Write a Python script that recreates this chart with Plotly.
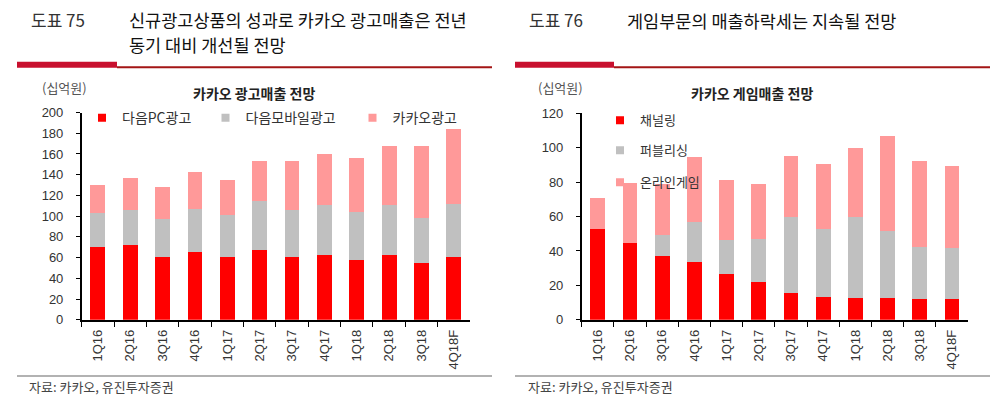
import plotly.graph_objects as go

quarters = ["1Q16", "2Q16", "3Q16", "4Q16", "1Q17", "2Q17", "3Q17", "4Q17",
            "1Q18", "2Q18", "3Q18", "4Q18F"]

# 카카오 광고매출 (십억원)
ad_names = ["다음PC광고", "다음모바일광고", "카카오광고"]
ad_pc = [70, 72.5, 61, 65.5, 61, 67, 61, 62.5, 58, 62.5, 55, 61]
ad_mobile = [33, 33, 36, 41.5, 40, 47.5, 44.5, 48.5, 46, 48.5, 43, 51]
ad_kakao = [27, 31.5, 31, 36, 33.5, 39, 47.5, 49, 52, 56.5, 70, 72.5]

# 카카오 게임매출 (십억원)
game_names = ["채널링", "퍼블리싱", "온라인게임"]
game_channel = [53, 44.5, 37, 33.5, 26.5, 22, 15.5, 13.5, 12.5, 12.5, 12, 12]
game_publish = [0, 0, 12, 23.5, 20, 25, 44, 39.5, 47.5, 39, 30.5, 30]
game_online = [18, 35, 30, 37.5, 34.5, 32, 35.5, 37.5, 40, 55, 50, 47.5]

colors = ["#FF0000", "#C0C0C0", "#FF9999"]

W, H = 1000, 399
# vertical correction for the capture (measured from earlier renders)
SY, OY = 0.963, 7.7
def px(x):
    return x / W
def py(y):
    return 1 - ((y - OY) / SY) / H

FONT = "Noto Sans CJK KR"
NUMFONT = "Liberation Sans, Noto Sans CJK KR"

fig = go.Figure()

left_legends = ["legend", "legend2", "legend3"]
right_legends = ["legend4", "legend5", "legend6"]

for name, vals, c, lg in zip(ad_names, [ad_pc, ad_mobile, ad_kakao], colors, left_legends):
    fig.add_trace(go.Bar(x=quarters, y=vals, name=name, marker_color=c,
                         marker_line_width=0, xaxis="x", yaxis="y",
                         showlegend=False))
    fig.add_trace(go.Scatter(x=[None], y=[None], mode="markers", name=name,
                             marker=dict(symbol="square", size=8, color=c),
                             legend=lg, xaxis="x", yaxis="y"))

for name, vals, c, lg in zip(game_names, [game_channel, game_publish, game_online], colors, right_legends):
    fig.add_trace(go.Bar(x=quarters, y=vals, name=name, marker_color=c,
                         marker_line_width=0, xaxis="x2", yaxis="y2",
                         showlegend=False))
    fig.add_trace(go.Scatter(x=[None], y=[None], mode="markers", name=name,
                             marker=dict(symbol="square", size=8, color=c),
                             legend=lg, xaxis="x2", yaxis="y2"))

xcommon = dict(type="category", range=[-0.5, 11.5], showline=True,
               linecolor="black", linewidth=1.5, ticks="outside",
               tickson="boundaries", ticklen=5, tickwidth=1.2, tickcolor="black",
               tickangle=-90, ticklabelstandoff=3,
               tickfont=dict(family=NUMFONT, size=13, color="#333"),
               showgrid=False, zeroline=False, fixedrange=True)
ycommon = dict(showline=True, linecolor="black", linewidth=1.5, ticks="outside",
               ticklen=4, tickwidth=1.2, tickcolor="black", showgrid=False,
               zeroline=False, fixedrange=True, ticklabelstandoff=10,
               tickfont=dict(family=NUMFONT, size=13, color="#333"))

legend_layout = {}
for lg, xc, yc in zip(left_legends, [102, 225.5, 372.5], [119, 119, 119]):
    legend_layout[lg] = dict(x=px(xc - 20), y=py(yc), xanchor="left", yanchor="middle",
                             font=dict(family=FONT, size=14, color="#333"),
                             bgcolor="rgba(0,0,0,0)")
for lg, xc, yc in zip(right_legends, [620, 620, 620], [121, 151, 183]):
    legend_layout[lg] = dict(x=px(xc - 20), y=py(yc), xanchor="left", yanchor="middle",
                             font=dict(family=FONT, size=13, color="#333"),
                             bgcolor="rgba(0,0,0,0)")

fig.update_layout(
    width=W, height=H, autosize=False,
    margin=dict(l=0, r=0, t=0, b=0),
    paper_bgcolor="white", plot_bgcolor="white",
    barmode="stack", bargap=0.54,
    xaxis=dict(domain=[px(81.7), px(470)], anchor="y", **xcommon),
    yaxis=dict(domain=[py(320.7), py(113.3)], anchor="x", range=[0, 200], dtick=20, **ycommon),
    xaxis2=dict(domain=[px(581.7), px(968)], anchor="y2", **xcommon),
    yaxis2=dict(domain=[py(320.7), py(114)], anchor="x2", range=[0, 120], dtick=20, **ycommon),
    **legend_layout,
)

shapes = []
for x0, xm, x1 in [(17, 117, 492), (515, 614, 990)]:
    shapes.append(dict(type="rect", xref="paper", yref="paper",
                       x0=px(xm), x1=px(x1), y0=py(69), y1=py(67),
                       fillcolor="#A31515", line_width=0))
    shapes.append(dict(type="rect", xref="paper", yref="paper",
                       x0=px(x0), x1=px(xm), y0=py(68.5), y1=py(62.5),
                       fillcolor="#C8102E", line_width=0))
    shapes.append(dict(type="line", xref="paper", yref="paper",
                       x0=px(x0), x1=px(x1), y0=py(377), y1=py(377),
                       line=dict(color="#999", width=1.5)))
fig.update_layout(shapes=shapes)

ann = []
def add(text, x, y, size, color="#111", xanchor="left", bold=False, family=FONT):
    ann.append(dict(text=("<b>%s</b>" % text) if bold else text, x=px(x), y=py(y),
                    xref="paper", yref="paper", xanchor=xanchor, yanchor="middle",
                    showarrow=False, font=dict(family=family, size=size, color=color)))

add("도표 75", 29, 20, 17, "#333")
add("신규광고상품의 성과로 카카오 광고매출은 전년", 127, 20.5, 17.5, "#111")
add("동기 대비 개선될 전망", 127, 45.5, 17.5, "#111")
add("도표 76", 527, 20, 17, "#333")
add("게임부문의 매출하락세는 지속될 전망", 625, 21, 17.5, "#111")

add("(십억원)", 40, 88, 13, "#555")
add("카카오 광고매출 전망", 254, 94, 14, "#222", xanchor="center", bold=True)
add("(십억원)", 536, 88, 13, "#555")
add("카카오 게임매출 전망", 752, 94, 14, "#222", xanchor="center", bold=True)

add("자료: 카카오, 유진투자증권", 27, 387, 13, "#444")
add("자료: 카카오, 유진투자증권", 526, 387, 13, "#444")
fig.update_layout(annotations=ann)

fig.write_html("out.html",
               config={"responsive": False, "displayModeBar": False},
               post_script="document.documentElement.style.margin='0';"
                           "document.body.style.margin='0';"
                           "document.body.style.padding='0';"
                           "document.body.style.overflow='hidden';")
